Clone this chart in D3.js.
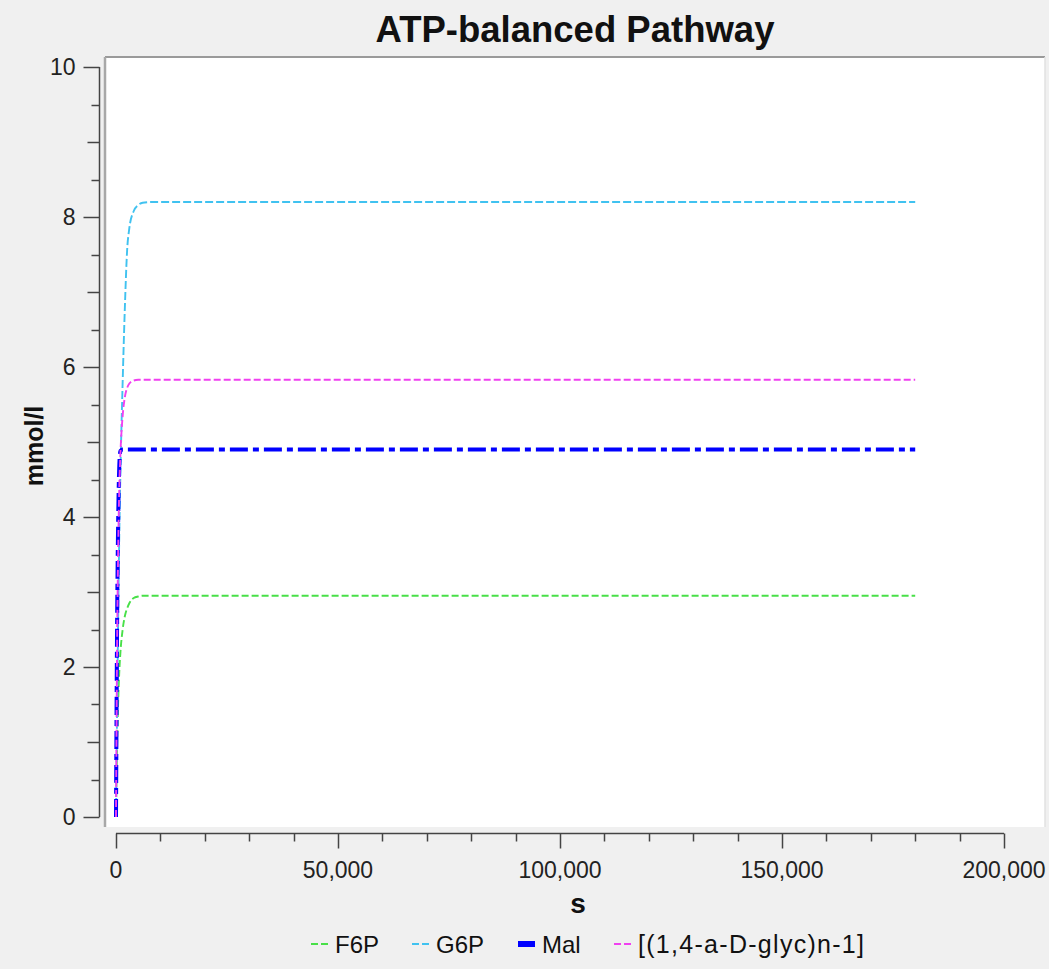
<!DOCTYPE html>
<html>
<head>
<meta charset="utf-8">
<script src="https://cdn.jsdelivr.net/npm/d3@7"></script>
<style>
  html, body { margin: 0; padding: 0; background: #f0f0f0; }
  svg { display: block; font-family: "Liberation Sans", Arial, sans-serif; }
</style>
</head>
<body>
<svg id="chart" width="1049" height="969"></svg>
<script>
// Simulation time points (s)
const times = [0, 250, 500, 750, 1000, 1500, 2000, 2500, 3000, 4000, 5000, 6000, 8000, 20000, 180000];

// Concentrations (mmol/l) at each time point
const f6p  = [0, 0.95, 1.55, 1.95, 2.2, 2.5, 2.68, 2.78, 2.85, 2.92, 2.94, 2.95, 2.95, 2.95, 2.95];
const g6p  = [0, 1.4, 2.7, 3.8, 4.6, 5.8, 6.8, 7.55, 7.85, 8.08, 8.16, 8.19, 8.2, 8.2, 8.2];
const mal  = [0, 2.6, 4.0, 4.7, 4.88, 4.9, 4.9, 4.9, 4.9, 4.9, 4.9, 4.9, 4.9, 4.9, 4.9];
const glyc = [0, 2.3, 3.6, 4.4, 4.85, 5.35, 5.6, 5.72, 5.78, 5.82, 5.83, 5.83, 5.83, 5.83, 5.83];

const seriesNames  = ["F6P", "G6P", "Mal", "[(1,4-a-D-glyc)n-1]"];
const seriesValues = [f6p, g6p, mal, glyc];
const seriesColors = ["#48e048", "#40c2f0", "#0000ff", "#f040f0"];
const seriesWidths = [1.9, 1.9, 4, 1.9];
const seriesDashes = ["7,3", "8,3", "18,5,6,5", "7,3"];

const xTicks = [0, 50000, 100000, 150000, 200000];
const yTicks = [0, 2, 4, 6, 8, 10];

const svg = d3.select("#chart");

// Plot frame
const frame = { left: 105, right: 1045, top: 57, bottom: 827 };
const x = d3.scaleLinear().domain([0, 200000]).range([116, 1004]);
const y = d3.scaleLinear().domain([0, 10]).range([817, 67]);

svg.append("rect")
  .attr("x", frame.left).attr("y", frame.top)
  .attr("width", frame.right - frame.left).attr("height", frame.bottom - frame.top)
  .attr("fill", "#ffffff");
svg.append("line")
  .attr("x1", frame.left).attr("x2", frame.right)
  .attr("y1", frame.top).attr("y2", frame.top)
  .attr("stroke", "#9a9a9a").attr("stroke-width", 2);
svg.append("line")
  .attr("x1", frame.left).attr("x2", frame.left)
  .attr("y1", frame.top).attr("y2", frame.bottom)
  .attr("stroke", "#a8a8a8").attr("stroke-width", 2.5);
svg.append("line")
  .attr("x1", frame.right).attr("x2", frame.right)
  .attr("y1", frame.top).attr("y2", frame.bottom)
  .attr("stroke", "#e2e2e2").attr("stroke-width", 1.5);

// Title
svg.append("text")
  .attr("x", 575).attr("y", 42)
  .attr("text-anchor", "middle")
  .attr("font-size", 36.5).attr("font-weight", "bold").attr("fill", "#111")
  .text("ATP-balanced Pathway");

// Y axis (detached, left of the frame)
const yAxisX = 99.5;
const yAxis = svg.append("g").attr("transform", `translate(${yAxisX},0)`);
yAxis.append("line").attr("x1", 0).attr("x2", 0)
  .attr("y1", y(10)).attr("y2", y(0))
  .attr("stroke", "#444").attr("stroke-width", 1.5);
const yMinor = d3.range(0, 10.01, 0.5);
yAxis.selectAll("line.tick").data(yMinor).join("line")
  .attr("class", "tick")
  .attr("x1", d => (d % 2 === 0) ? -16 : (Number.isInteger(d) ? -12 : -8))
  .attr("x2", 0)
  .attr("y1", d => Math.round(y(d)) + 0.5).attr("y2", d => Math.round(y(d)) + 0.5)
  .attr("stroke", "#444").attr("stroke-width", 1.5);
yAxis.selectAll("text").data(yTicks).join("text")
  .attr("x", -24).attr("y", d => y(d))
  .attr("dy", "0.36em")
  .attr("text-anchor", "end")
  .attr("font-size", 23).attr("fill", "#222")
  .text(d => d3.format(",")(d));

// X axis (detached, below the frame)
const xAxisY = 833.5;
const xAxis = svg.append("g").attr("transform", `translate(0,${xAxisY})`);
xAxis.append("line").attr("x1", x(0)).attr("x2", x(200000))
  .attr("y1", 0).attr("y2", 0)
  .attr("stroke", "#444").attr("stroke-width", 1.5);
const xMinor = d3.range(0, 200001, 10000);
xAxis.selectAll("line.tick").data(xMinor).join("line")
  .attr("class", "tick")
  .attr("x1", d => Math.round(x(d)) + 0.5).attr("x2", d => Math.round(x(d)) + 0.5)
  .attr("y1", 0).attr("y2", d => d % 50000 === 0 ? 15 : 8)
  .attr("stroke", "#444").attr("stroke-width", 1.5);
xAxis.selectAll("text").data(xTicks).join("text")
  .attr("x", d => x(d)).attr("y", 44)
  .attr("text-anchor", "middle")
  .attr("font-size", 23).attr("fill", "#222")
  .text(d => d3.format(",")(d));

// Axis titles
svg.append("text")
  .attr("transform", "translate(43,446) rotate(-90)")
  .attr("text-anchor", "middle")
  .attr("font-size", 25).attr("font-weight", "bold").attr("fill", "#111")
  .text("mmol/l");
svg.append("text")
  .attr("x", 578).attr("y", 913)
  .attr("text-anchor", "middle")
  .attr("font-size", 28).attr("font-weight", "bold").attr("fill", "#111")
  .text("s");

// Series lines
const line = d3.line()
  .x(d => x(d[0]))
  .y(d => y(d[1]))
  .curve(d3.curveMonotoneX);

const plot = svg.append("g");
seriesValues.forEach((vals, i) => {
  const pts = times.map((t, j) => [t, vals[j]]);
  plot.append("path")
    .datum(pts)
    .attr("d", line)
    .attr("fill", "none")
    .attr("stroke", seriesColors[i])
    .attr("stroke-width", seriesWidths[i])
    .attr("stroke-dasharray", seriesDashes[i]);
});

// Legend
const legendItems = [
  { x: 311, swatch: "dash" },
  { x: 412, swatch: "dash" },
  { x: 518, swatch: "solid" },
  { x: 614, swatch: "dash" }
];
const legendY = 944;
const legend = svg.append("g");
legendItems.forEach((it, i) => {
  const g = legend.append("g").attr("transform", `translate(${it.x},${legendY})`);
  if (it.swatch === "solid") {
    g.append("rect").attr("x", 0).attr("y", -3).attr("width", 17).attr("height", 6)
      .attr("fill", seriesColors[i]);
  } else {
    g.append("line").attr("x1", 0).attr("x2", 17).attr("y1", 0).attr("y2", 0)
      .attr("stroke", seriesColors[i]).attr("stroke-width", 2)
      .attr("stroke-dasharray", "7,3");
  }
  const t = g.append("text").attr("x", 24).attr("y", 0).attr("dy", "0.36em")
    .attr("font-size", i === 3 ? 25 : 24).attr("fill", "#111")
    .text(seriesNames[i]);
  if (i === 3) t.attr("textLength", 226).attr("lengthAdjust", "spacing");
});
</script>
</body>
</html>
